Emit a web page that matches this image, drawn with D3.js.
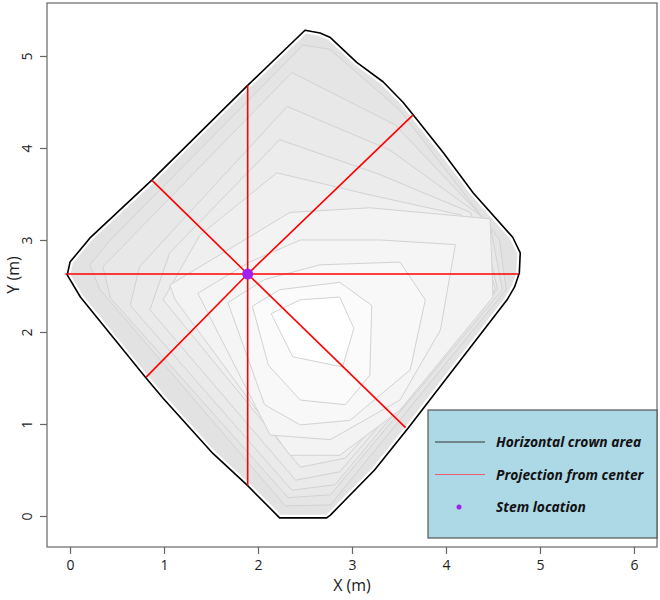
<!DOCTYPE html>
<html>
<head>
<meta charset="utf-8">
<script src="https://cdn.jsdelivr.net/npm/d3@7"></script>
<style>
  body { margin: 0; background: #fff; }
  text { font-family: "Open Sans", "DejaVu Sans", sans-serif; }
</style>
</head>
<body>
<div id="chart"></div>
<script>
// crown outline (m)
const crownOutline = [
  [2.50, 5.28], [2.66, 5.25], [2.77, 5.20], [3.05, 4.93], [3.33, 4.72], [3.54, 4.50],
  [3.65, 4.36], [3.97, 3.95], [4.29, 3.51], [4.71, 3.03], [4.79, 2.86], [4.78, 2.64],
  [4.73, 2.49], [4.65, 2.35], [3.60, 0.96], [3.24, 0.50], [2.77, 0.01], [2.73, -0.02],
  [2.23, -0.02], [1.89, 0.33], [1.52, 0.68], [0.99, 1.28], [0.80, 1.51], [0.11, 2.38],
  [-0.03, 2.62], [0.00, 2.76], [0.21, 3.02], [0.87, 3.65], [1.89, 4.68]
];

// crown slices, outer to inner
const sliceFills = ['#e5e5e5', '#e8e8e8', '#eaeaea', '#ececec', '#efefef', '#f3f3f3', '#f5f5f5', '#f8f8f8', '#fbfbfb', '#ffffff'];
const crownSlices = [
  [[2.48, 5.12], [2.77, 5.07], [3.51, 4.41], [4.57, 3.00], [4.64, 2.46], [2.77, 0.12], [2.29, 0.11], [0.32, 2.46], [0.21, 2.73], [0.43, 3.00]],
  [[2.36, 4.82], [3.46, 4.25], [4.47, 3.16], [4.60, 2.46], [2.77, 0.23], [2.32, 0.20], [0.43, 2.37], [0.35, 2.71]],
  [[2.31, 4.45], [3.40, 3.98], [4.36, 3.27], [4.55, 2.46], [2.82, 0.34], [2.36, 0.28], [0.64, 2.29], [0.74, 2.71]],
  [[2.23, 4.09], [3.30, 3.71], [4.26, 3.30], [4.53, 2.46], [2.87, 0.48], [2.40, 0.39], [0.85, 2.24], [1.06, 2.86]],
  [[2.20, 3.73], [3.19, 3.49], [4.17, 3.27], [4.51, 2.43], [2.93, 0.63], [2.45, 0.53], [0.99, 2.35], [1.38, 3.05]],
  [[2.34, 3.30], [3.19, 3.35], [4.47, 3.23], [4.50, 2.38], [3.51, 1.15], [2.87, 0.66], [2.34, 0.66], [1.12, 2.35], [1.06, 2.51]],
  [[1.36, 2.42], [1.91, 2.76], [2.45, 3.00], [3.30, 3.00], [4.10, 2.95], [3.94, 2.02], [3.51, 1.26], [2.77, 0.83], [2.13, 0.88]],
  [[1.68, 2.32], [2.07, 2.57], [2.66, 2.73], [3.51, 2.76], [3.78, 2.35], [3.62, 1.59], [2.98, 1.04], [2.45, 0.99], [2.07, 1.21]],
  [[1.94, 2.28], [2.23, 2.46], [2.87, 2.54], [3.21, 2.29], [3.19, 1.53], [2.93, 1.21], [2.45, 1.26], [2.11, 1.64]],
  [[2.14, 2.20], [2.45, 2.35], [2.87, 2.38], [3.02, 2.04], [2.90, 1.62], [2.37, 1.73]]
];

const stem = [1.89, 2.63];
// projection end points from the stem (m)
const projectionEnds = [
  [1.89, 4.68], [3.65, 4.36], [4.77, 2.63], [3.57, 0.96],
  [1.89, 0.33], [0.81, 1.51], [-0.05, 2.63], [0.87, 3.65]
];

const xTicks = [0, 1, 2, 3, 4, 5, 6];
const yTicks = [0, 1, 2, 3, 4, 5];
const legendLabels = ['Horizontal crown area', 'Projection from center', 'Stem location'];

const width = 660, height = 600;
const plot = { left: 47, top: 3, right: 657, bottom: 547 };

const svg = d3.select('#chart')
  .append('svg')
  .attr('width', width)
  .attr('height', height);

const x = d3.scaleLinear().domain([-0.245, 6.245]).range([plot.left, plot.right]);
const y = d3.scaleLinear().domain([-0.337, 5.576]).range([plot.bottom, plot.top]);

const line = d3.line().x(d => x(d[0])).y(d => y(d[1]));
const closed = d3.line().x(d => x(d[0])).y(d => y(d[1])).curve(d3.curveLinearClosed);

// crown base fill
svg.append('path')
  .attr('d', closed(crownOutline))
  .attr('fill', '#e2e2e2');

svg.selectAll('.slice')
  .data(crownSlices)
  .enter()
  .append('path')
  .attr('class', 'slice')
  .attr('d', d => closed(d))
  .attr('fill', (d, i) => sliceFills[i])
  .attr('stroke', '#d2d2d2')
  .attr('stroke-width', 1)
  .attr('stroke-linejoin', 'round');

// outline: white halo under black line
svg.append('path')
  .attr('d', closed(crownOutline))
  .attr('fill', 'none')
  .attr('stroke', '#fff')
  .attr('stroke-width', 6)
  .attr('stroke-linejoin', 'round');
svg.append('path')
  .attr('d', closed(crownOutline))
  .attr('fill', 'none')
  .attr('stroke', '#000')
  .attr('stroke-width', 1.6)
  .attr('stroke-linejoin', 'round');

// projections
svg.selectAll('.proj')
  .data(projectionEnds)
  .enter()
  .append('path')
  .attr('class', 'proj')
  .attr('d', d => line([stem, d]))
  .attr('stroke', '#ff0000')
  .attr('stroke-width', 1.6);

svg.append('circle')
  .attr('cx', x(stem[0]))
  .attr('cy', y(stem[1]))
  .attr('r', 5.5)
  .attr('fill', '#a020f0');

// box
svg.append('rect')
  .attr('x', plot.left)
  .attr('y', plot.top)
  .attr('width', plot.right - plot.left)
  .attr('height', plot.bottom - plot.top)
  .attr('fill', 'none')
  .attr('stroke', '#666')
  .attr('stroke-width', 1.2);

// axes
svg.append('g')
  .attr('transform', `translate(0, ${plot.bottom})`)
  .call(d3.axisBottom(x).tickValues(xTicks).tickSize(7).tickPadding(6).tickFormat(d3.format('d')))
  .call(g => g.select('.domain').remove())
  .call(g => g.selectAll('line').attr('stroke', '#666').attr('stroke-width', 1.2))
  .call(g => g.selectAll('text').attr('font-size', 14).attr('fill', '#222')
    .attr('font-family', '"Open Sans", sans-serif'));

const yAxis = svg.append('g')
  .attr('transform', `translate(${plot.left}, 0)`)
  .call(d3.axisLeft(y).tickValues(yTicks).tickSize(7).tickFormat(d3.format('d')))
  .call(g => g.select('.domain').remove())
  .call(g => g.selectAll('line').attr('stroke', '#666').attr('stroke-width', 1.2));
yAxis.selectAll('text')
  .attr('x', null).attr('dy', null)
  .attr('text-anchor', 'middle')
  .attr('transform', 'translate(-15, 0) rotate(-90)')
  .attr('font-size', 14).attr('fill', '#222')
  .attr('font-family', '"Open Sans", sans-serif');

svg.append('text')
  .attr('x', (plot.left + plot.right) / 2)
  .attr('y', 591)
  .attr('text-anchor', 'middle')
  .attr('font-size', 16)
  .attr('fill', '#222')
  .text('X (m)');

svg.append('text')
  .attr('transform', `translate(19, ${(plot.top + plot.bottom) / 2}) rotate(-90)`)
  .attr('text-anchor', 'middle')
  .attr('font-size', 16)
  .attr('fill', '#222')
  .text('Y (m)');

// legend
const legend = svg.append('g').attr('transform', 'translate(428, 410)');
legend.append('rect')
  .attr('width', 229)
  .attr('height', 128)
  .attr('fill', '#add8e6')
  .attr('stroke', '#555')
  .attr('stroke-width', 1.2);

legendLabels.forEach((label, i) => {
  const ly = 32 + i * 32.5;
  if (i === 0) {
    legend.append('line').attr('x1', 7).attr('x2', 57).attr('y1', ly).attr('y2', ly)
      .attr('stroke', '#333').attr('stroke-width', 1);
  } else if (i === 1) {
    legend.append('line').attr('x1', 7).attr('x2', 57).attr('y1', ly).attr('y2', ly)
      .attr('stroke', '#e8606e').attr('stroke-width', 1.2);
  } else {
    legend.append('circle').attr('cx', 31).attr('cy', ly).attr('r', 2.5).attr('fill', '#a020f0');
  }
  legend.append('text')
    .attr('x', 68)
    .attr('y', ly + 5)
    .attr('font-size', 13.8)
    .attr('font-weight', 'bold')
    .attr('font-style', 'italic')
    .attr('fill', '#111')
    .text(label);
});
</script>
</body>
</html>
